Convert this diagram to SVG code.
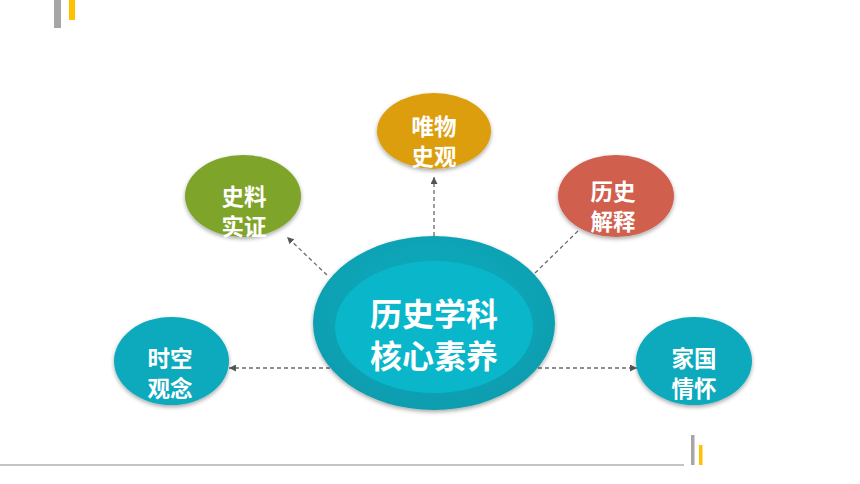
<svg xmlns="http://www.w3.org/2000/svg" width="860" height="484" viewBox="0 0 860 484">
  <style>
    .lbl { font-family: "Noto Sans CJK SC", "Noto Sans", sans-serif; font-weight: bold; fill: #FFFFFF; text-anchor: middle; }
    .s { font-size: 22.5px; }
    .b { font-size: 32px; }
    .conn { stroke: #6B6B6B; stroke-width: 1.3; stroke-dasharray: 4 3; fill: none; }
  </style>
  <defs>
    <marker id="arr" viewBox="0 0 10 10" refX="10" refY="5" markerWidth="7" markerHeight="7" markerUnits="userSpaceOnUse" orient="auto">
      <path d="M0,0 L10,5 L0,10 Z" fill="#555555"/>
    </marker>
    <filter id="sh" x="-20%" y="-20%" width="140%" height="150%">
      <feGaussianBlur in="SourceAlpha" stdDeviation="2"/>
      <feOffset dx="0" dy="2" result="b"/>
      <feComponentTransfer><feFuncA type="linear" slope="0.35"/></feComponentTransfer>
      <feMerge><feMergeNode/><feMergeNode in="SourceGraphic"/></feMerge>
    </filter>
    <radialGradient id="outerG" cx="50%" cy="40%" r="60%">
      <stop offset="0%" stop-color="#0BAEC1"/>
      <stop offset="100%" stop-color="#0A9DAF"/>
    </radialGradient>
  </defs>
  <rect width="860" height="484" fill="#FFFFFF"/>

  <!-- decorations -->
  <rect x="54" y="0" width="7" height="28" fill="#A6A6A6"/>
  <rect x="69" y="0" width="6" height="20" fill="#FFC000"/>
  <rect x="0" y="464" width="684" height="2" fill="#C4C4C4"/>
  <rect x="691" y="435" width="3.5" height="30" fill="#A6A6A6"/>
  <rect x="699" y="445" width="3.5" height="20" fill="#FFC000"/>

  <!-- connectors -->
  <g id="connectors">
    <line class="conn" x1="434" y1="236" x2="434" y2="177" marker-end="url(#arr)"/>
    <line class="conn" x1="327" y1="275" x2="287" y2="237" marker-end="url(#arr)"/>
    <line class="conn" x1="535" y1="273" x2="580" y2="229"/>
    <line class="conn" x1="330" y1="368" x2="229" y2="368" marker-end="url(#arr)"/>
    <line class="conn" x1="538" y1="368" x2="637" y2="368" marker-end="url(#arr)"/>
  </g>

  <!-- center -->
  <g id="center">
    <ellipse cx="434" cy="323" rx="121" ry="87" fill="url(#outerG)" filter="url(#sh)"/>
    <ellipse cx="434" cy="327" rx="99" ry="66" fill="#0AB6C9"/>
    <text class="lbl b" x="434" y="326">历史学科</text>
    <text class="lbl b" x="434" y="368">核心素养</text>
  </g>

  <g id="node-wuwu">
    <ellipse cx="434" cy="131" rx="57" ry="38" fill="#DC9E0D" filter="url(#sh)"/>
    <text class="lbl s" x="434" y="135">唯物</text>
    <text class="lbl s" x="434" y="165">史观</text>
  </g>

  <g id="node-shiliao">
    <ellipse cx="243" cy="196" rx="58" ry="41" fill="#7FA42A" filter="url(#sh)"/>
    <text class="lbl s" x="244" y="205">史料</text>
    <text class="lbl s" x="244" y="235">实证</text>
  </g>

  <g id="node-jieshi">
    <ellipse cx="616" cy="196" rx="58" ry="41" fill="#D0614E" filter="url(#sh)"/>
    <text class="lbl s" x="613" y="200">历史</text>
    <text class="lbl s" x="613" y="230">解释</text>
  </g>

  <g id="node-shikong">
    <ellipse cx="171.5" cy="361" rx="57.5" ry="44" fill="#0BA9BC" filter="url(#sh)"/>
    <text class="lbl s" x="170" y="367">时空</text>
    <text class="lbl s" x="170" y="397">观念</text>
  </g>

  <g id="node-jiaguo">
    <ellipse cx="694" cy="361" rx="58" ry="44" fill="#0BA9BC" filter="url(#sh)"/>
    <text class="lbl s" x="694" y="367">家国</text>
    <text class="lbl s" x="694" y="397">情怀</text>
  </g>
</svg>
